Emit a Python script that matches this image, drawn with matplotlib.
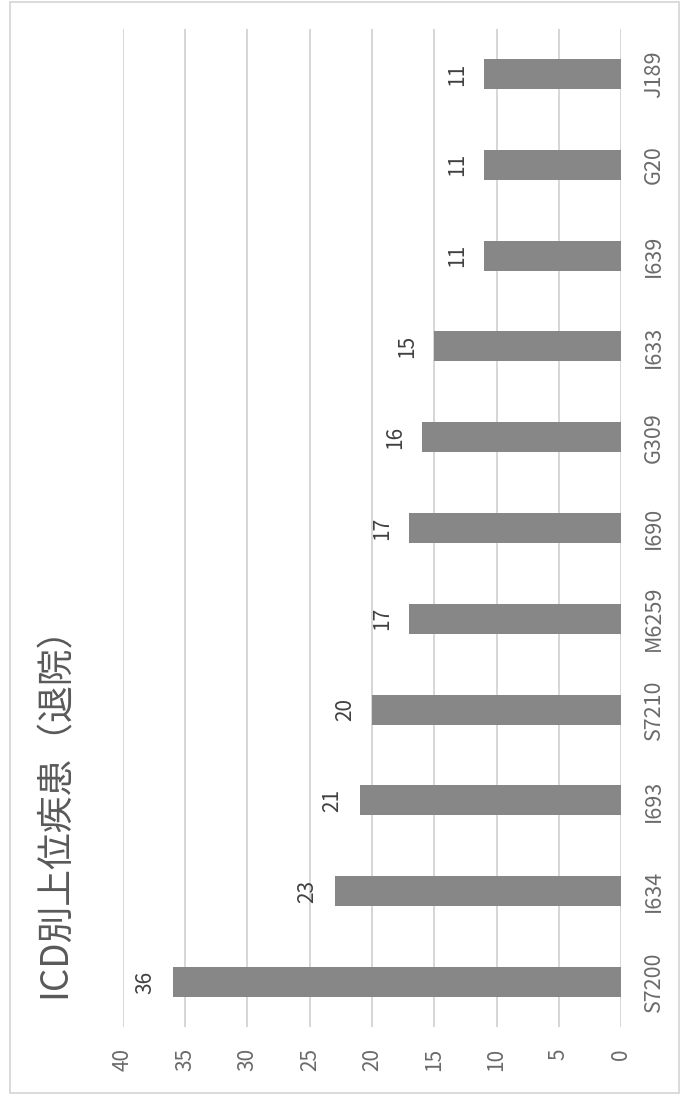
import matplotlib.pyplot as plt
from matplotlib.patches import Rectangle

plt.rcParams['font.family'] = ['Noto Sans CJK JP', 'DejaVu Sans']

# data (bottom to top in the rotated chart)
codes = ['S7200', 'I634', 'I693', 'S7210', 'M6259', 'I690',
         'G309', 'I633', 'I639', 'G20', 'J189']
counts = [36, 23, 21, 20, 17, 17, 16, 15, 11, 11, 11]
value_ticks = [0, 5, 10, 15, 20, 25, 30, 35, 40]
title = 'ICD別上位疾患（退院）'

W, H = 683, 1096
fig = plt.figure(figsize=(W / 100, H / 100), dpi=100)
ax = fig.add_axes([123 / W, 1 - 1027.4 / H, (621 - 123) / W, (1027.4 - 28.6) / H])

pos = list(range(len(codes)))
bars = ax.barh(pos, counts, height=0.33, color='#878787', zorder=3)

ax.set_xlim(40, 0)
ax.set_ylim(-0.5, len(codes) - 0.5)
ax.set_xticks(value_ticks)
ax.set_xticklabels([str(v) for v in value_ticks], rotation=90, va='top', ha='center')
ax.set_yticks(pos)
ax.set_yticklabels(codes, rotation=90, va='center', ha='left')
ax.yaxis.tick_right()
ax.tick_params(axis='x', length=0, pad=15, labelsize=15, labelcolor='#6a6a6a')
ax.tick_params(axis='y', length=0, pad=16, labelsize=15.5, labelcolor='#6a6a6a')
for s in ax.spines.values():
    s.set_visible(False)
ax.grid(axis='x', color='#cfcfcf', linewidth=1.2, zorder=0)

for b, v in zip(bars, counts):
    ax.annotate(str(v), (v, b.get_y() + b.get_height() / 2),
                xytext=(-19.5, 0), textcoords='offset points',
                rotation=90, ha='center', va='center',
                fontsize=15, color='#404040')

fig.text(55 / W, 1 - 803 / H, title, rotation=90, ha='center', va='center',
         fontsize=26.5, color='#595959')

fig.patches.append(Rectangle((10 / W, 1 - 1093 / H), (679 - 10) / W, (1093 - 2) / H,
                             transform=fig.transFigure, fill=False,
                             edgecolor='#d4d4d4', linewidth=1.2))

fig.savefig('out.png', dpi=100, facecolor='white')
